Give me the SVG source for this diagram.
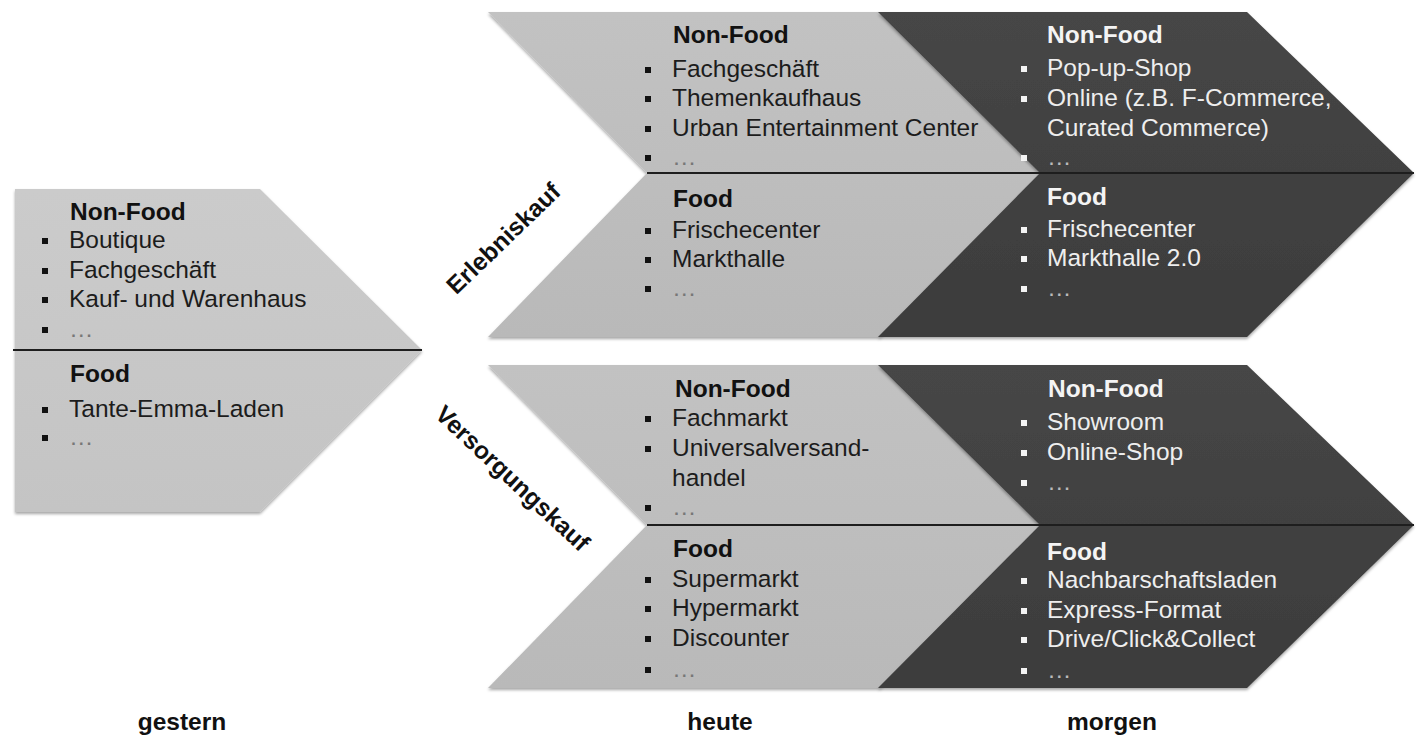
<svg xmlns="http://www.w3.org/2000/svg" width="1416" height="737" viewBox="0 0 1416 737">
<defs>
<linearGradient id="gLight" x1="0" y1="0" x2="0" y2="1">
<stop offset="0" stop-color="#cbcbcb"/>
<stop offset="1" stop-color="#c4c4c4"/>
</linearGradient>
<linearGradient id="gMid" x1="0" y1="0" x2="0" y2="1">
<stop offset="0" stop-color="#c2c2c2"/>
<stop offset="1" stop-color="#b9b9b9"/>
</linearGradient>
<linearGradient id="gDark" x1="0" y1="0" x2="0" y2="1">
<stop offset="0" stop-color="#464646"/>
<stop offset="1" stop-color="#3c3c3c"/>
</linearGradient>
<filter id="sh" x="-5%" y="-5%" width="110%" height="115%">
<feDropShadow dx="0" dy="2" stdDeviation="1.5" flood-color="#000" flood-opacity="0.35"/>
</filter>
</defs>
<style>
text{font-family:"Liberation Sans",Arial,sans-serif;font-size:24.5px}
.hd{font-weight:bold;fill:#111}
.it{fill:#1c1c1c}
.dk .hd{fill:#f4f4f4}
.dk .it{fill:#eeeeee}
.el{fill:#777}
.dk .el{fill:#bbbbbb}
.bl{fill:#111}
.dk .bl{fill:#f4f4f4}
.lab{font-weight:bold;fill:#111}
.div{stroke:#1e1e1e;stroke-width:2}
.shape{filter:url(#sh)}
</style>

<g id="gestern">
<polygon class="shape" points="15,189 260,189 422,350 260,512 15,512" fill="url(#gLight)"/>
<line class="div" x1="13" y1="350" x2="422" y2="350"/>
<text class="hd" x="70" y="220">Non-Food</text>
<rect class="bl" x="42" y="238" width="6" height="6"/><text class="it" x="69" y="248">Boutique</text>
<rect class="bl" x="42" y="268" width="6" height="6"/><text class="it" x="69" y="278">Fachgeschäft</text>
<rect class="bl" x="42" y="297" width="6" height="6"/><text class="it" x="69" y="307">Kauf- und Warenhaus</text>
<rect class="bl" x="42" y="327" width="6" height="6"/><text class="it el" x="69" y="337">…</text>
<text class="hd" x="70" y="382">Food</text>
<rect class="bl" x="42" y="407" width="6" height="6"/><text class="it" x="69" y="417">Tante-Emma-Laden</text>
<rect class="bl" x="42" y="435" width="6" height="6"/><text class="it el" x="69" y="445">…</text>
</g>

<g id="heute-erlebnis">
<polygon class="shape" points="488,12 880,12 1041,173 880,337 488,337 647,173" fill="url(#gMid)"/>
</g>
<g id="morgen-erlebnis" class="dk">
<polygon class="shape" points="878,12 1247,12 1414,173 1247,337 878,337 1040,173" fill="url(#gDark)"/>
</g>
<g id="heute-versorgung">
<polygon class="shape" points="488,365 880,365 1041,525 880,688 488,688 647,525" fill="url(#gMid)"/>
</g>
<g id="morgen-versorgung" class="dk">
<polygon class="shape" points="878,365 1247,365 1414,525 1247,688 878,688 1040,525" fill="url(#gDark)"/>
</g>

<g id="dividers">
<line class="div" x1="647" y1="173" x2="1414" y2="173"/>
<line class="div" x1="647" y1="525" x2="1414" y2="525"/>
</g>

<g id="heute-erlebnis-text">
<text class="hd" x="673" y="43">Non-Food</text>
<rect class="bl" x="645" y="67" width="6" height="6"/><text class="it" x="672" y="77">Fachgeschäft</text>
<rect class="bl" x="645" y="96" width="6" height="6"/><text class="it" x="672" y="106">Themenkaufhaus</text>
<rect class="bl" x="645" y="126" width="6" height="6"/><text class="it" x="672" y="136">Urban Entertainment Center</text>
<rect class="bl" x="645" y="155" width="6" height="6"/><text class="it el" x="672" y="165">…</text>
<text class="hd" x="673" y="207">Food</text>
<rect class="bl" x="645" y="228" width="6" height="6"/><text class="it" x="672" y="238">Frischecenter</text>
<rect class="bl" x="645" y="257" width="6" height="6"/><text class="it" x="672" y="267">Markthalle</text>
<rect class="bl" x="645" y="286" width="6" height="6"/><text class="it el" x="672" y="296">…</text>
</g>

<g id="morgen-erlebnis-text" class="dk">
<text class="hd" x="1047" y="43">Non-Food</text>
<rect class="bl" x="1021" y="66" width="6" height="6"/><text class="it" x="1047" y="76">Pop-up-Shop</text>
<rect class="bl" x="1021" y="96" width="6" height="6"/><text class="it" x="1047" y="106">Online (z.B. F-Commerce,</text>
<text class="it" x="1047" y="136">Curated Commerce)</text>
<rect class="bl" x="1021" y="155" width="6" height="6"/><text class="it el" x="1047" y="165">…</text>
<text class="hd" x="1047" y="205">Food</text>
<rect class="bl" x="1021" y="227" width="6" height="6"/><text class="it" x="1047" y="237">Frischecenter</text>
<rect class="bl" x="1021" y="256" width="6" height="6"/><text class="it" x="1047" y="266">Markthalle 2.0</text>
<rect class="bl" x="1021" y="286" width="6" height="6"/><text class="it el" x="1047" y="296">…</text>
</g>

<g id="heute-versorgung-text">
<text class="hd" x="675" y="397">Non-Food</text>
<rect class="bl" x="645" y="416" width="6" height="6"/><text class="it" x="672" y="426">Fachmarkt</text>
<rect class="bl" x="645" y="446" width="6" height="6"/><text class="it" x="672" y="456">Universalversand-</text>
<text class="it" x="672" y="486">handel</text>
<rect class="bl" x="645" y="505" width="6" height="6"/><text class="it el" x="672" y="515">…</text>
<text class="hd" x="673" y="557">Food</text>
<rect class="bl" x="645" y="577" width="6" height="6"/><text class="it" x="672" y="587">Supermarkt</text>
<rect class="bl" x="645" y="606" width="6" height="6"/><text class="it" x="672" y="616">Hypermarkt</text>
<rect class="bl" x="645" y="636" width="6" height="6"/><text class="it" x="672" y="646">Discounter</text>
<rect class="bl" x="645" y="667" width="6" height="6"/><text class="it el" x="672" y="677">…</text>
</g>

<g id="morgen-versorgung-text" class="dk">
<text class="hd" x="1048" y="397">Non-Food</text>
<rect class="bl" x="1021" y="420" width="6" height="6"/><text class="it" x="1047" y="430">Showroom</text>
<rect class="bl" x="1021" y="450" width="6" height="6"/><text class="it" x="1047" y="460">Online-Shop</text>
<rect class="bl" x="1021" y="480" width="6" height="6"/><text class="it el" x="1047" y="490">…</text>
<text class="hd" x="1047" y="560">Food</text>
<rect class="bl" x="1021" y="578" width="6" height="6"/><text class="it" x="1047" y="588">Nachbarschaftsladen</text>
<rect class="bl" x="1021" y="608" width="6" height="6"/><text class="it" x="1047" y="618">Express-Format</text>
<rect class="bl" x="1021" y="637" width="6" height="6"/><text class="it" x="1047" y="647">Drive/Click&amp;Collect</text>
<rect class="bl" x="1021" y="668" width="6" height="6"/><text class="it el" x="1047" y="678">…</text>
</g>

<g id="labels">
<text class="lab" text-anchor="middle" transform="translate(503,238) rotate(-44)" y="9">Erlebniskauf</text>
<text class="lab" text-anchor="middle" transform="translate(513,478) rotate(43)" y="9">Versorgungskauf</text>
<text class="lab" text-anchor="middle" x="182" y="730">gestern</text>
<text class="lab" text-anchor="middle" x="720" y="730">heute</text>
<text class="lab" text-anchor="middle" x="1112" y="730">morgen</text>
</g>
</svg>
